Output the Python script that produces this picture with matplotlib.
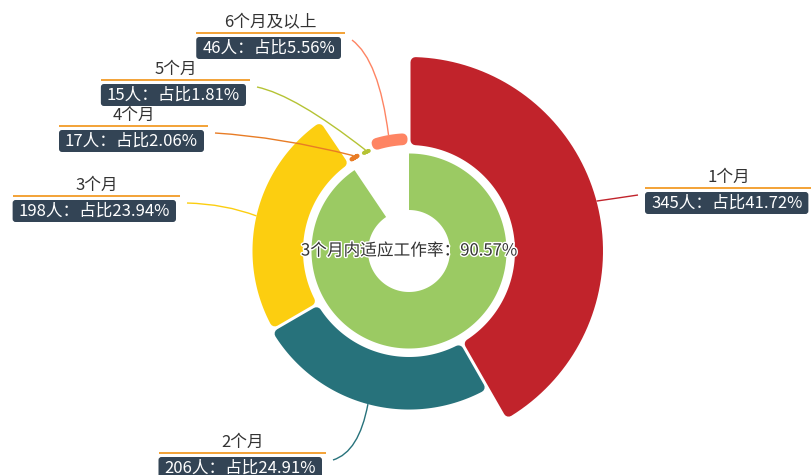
import numpy as np
import matplotlib
matplotlib.use("Agg")
import matplotlib.pyplot as plt
from matplotlib.patches import Polygon, FancyBboxPatch, PathPatch
from matplotlib.path import Path
import matplotlib.patheffects as pe

plt.rcParams['font.family'] = ['Noto Sans CJK SC', 'DejaVu Sans']

# data
periods = ['1个月', '2个月', '3个月', '4个月', '5个月', '6个月及以上']
counts = [345, 206, 198, 17, 15, 46]
colors = ['#c1232b', '#27727b', '#fcce10', '#e87c25', '#b5c334', '#fe8463']
inner_color = '#9bca63'

# label layout (pixel coords, y down): end of leader line and its bend
label_ends = [(638, 195), (333, 460), (187, 203), (215, 133), (257, 87), (352, 40)]
label_bends = [(618, 198), (359, 452), (225, 204), (280, 137), (295, 95), (379, 60)]
label_side = ['right', 'left', 'left', 'left', 'left', 'left']

W, H = 811, 475
CX, CY = 409, 251
R_IN, R_OUT = 106, 194
INNER_R = (41, 97.5)
PX = 72 / 100  # points per pixel

fig = plt.figure(figsize=(W / 100, H / 100), dpi=100)
ax = fig.add_axes([0, 0, 1, 1])
ax.set_xlim(0, W)
ax.set_ylim(H, 0)
ax.axis('off')


def pt(r, a):
    # a in radians, clockwise from 12 o'clock
    return CX + r * np.sin(a), CY - r * np.cos(a)


def sector(r0, r1, a0, a1, color, rc=5, half_gap=1.5):
    rc = max(min(rc, (r1 - r0) / 2 - 0.01), 0.3)
    ri, ro = r0 + rc, r1 - rc
    off = rc + half_gap
    oa0, oa1 = a0 + np.arcsin(off / ro), a1 - np.arcsin(off / ro)
    ia0, ia1 = a0 + np.arcsin(off / ri), a1 - np.arcsin(off / ri)
    if oa1 < oa0:
        oa0 = oa1 = (a0 + a1) / 2
    if ia1 < ia0:
        ia0 = ia1 = (a0 + a1) / 2
    ts = np.linspace(oa0, oa1, 80)
    outer = [pt(ro, t) for t in ts]
    ts = np.linspace(ia1, ia0, 80)
    inner = [pt(ri, t) for t in ts]
    poly = Polygon(outer + inner, closed=True, fc=color, ec=color,
                   lw=2 * rc * PX, joinstyle='round')
    ax.add_patch(poly)


total = sum(counts)
shares = [c / total for c in counts]
max_c = max(counts)

# inner ring: share adapted within 3 months
rate = sum(counts[:3]) / total
ts = np.linspace(0, 2 * np.pi * rate, 200)
ring = [pt(INNER_R[1], t) for t in ts] + [pt(INNER_R[0], t) for t in ts[::-1]]
ax.add_patch(Polygon(ring, closed=True, fc=inner_color, ec='none'))
ax.text(CX, CY, '3个月内适应工作率：{:.2f}%'.format(rate * 100), fontsize=12,
        color='#333333', ha='center', va='center',
        path_effects=[pe.withStroke(linewidth=2, foreground='white')])

# rose chart
renderer = fig.canvas.get_renderer()
start = 0.0
for i, (name, c) in enumerate(zip(periods, counts)):
    span = 2 * np.pi * shares[i]
    r = R_IN + (R_OUT - R_IN) * c / max_c
    sector(R_IN, r, start, start + span, colors[i])
    mid = start + span / 2
    start += span

    # leader line
    p0 = pt(r, mid)
    p1 = label_bends[i]
    p2 = label_ends[i]
    path = Path([p0, p1, p2], [Path.MOVETO, Path.CURVE3, Path.CURVE3])
    ax.add_patch(PathPatch(path, fc='none', ec=colors[i], lw=1.0))

    # label: title, underline, dark box
    ex, ey = p2
    box_txt = '{}人：占比{:.2f}%'.format(c, shares[i] * 100)
    t = ax.text(0, 0, box_txt, fontsize=12, color='white', ha='left', va='center')
    bb = t.get_window_extent(renderer)
    tw = bb.width
    padx = 6
    bw = tw + 2 * padx
    uw = bw + 4
    uy = ey - 7
    if label_side[i] == 'right':
        ux0 = ex + 7
    else:
        ux0 = ex - 7 - uw
    ax.plot([ux0, ux0 + uw], [uy, uy], color='#f3a43b', lw=2 * PX,
            solid_capstyle='butt')
    ax.text(ux0 + uw / 2, uy - 2, name, fontsize=12, color='#333333',
            ha='center', va='bottom')
    box = FancyBboxPatch((ux0, uy + 4), bw, 22,
                         boxstyle='round,pad=0,rounding_size=3',
                         fc='#334455', ec='none')
    ax.add_patch(box)
    t.set_position((ux0 + padx, uy + 15.5))

fig.savefig('out.png', dpi=100)
